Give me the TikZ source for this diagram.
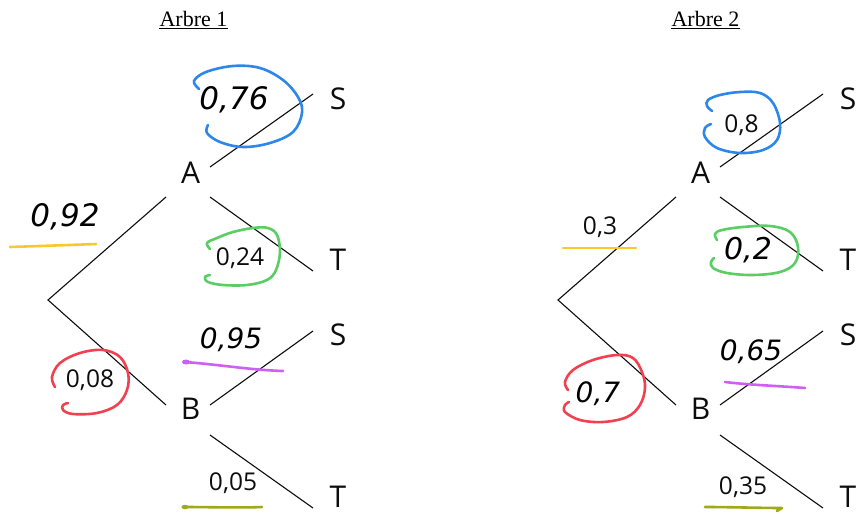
\documentclass[tikz,border=0pt]{standalone}
\usepackage{fontspec}
\setmainfont{Open Sans}
\newfontfamily\titlefont{Liberation Serif}
\newfontfamily\handfont{DejaVu Sans}
\definecolor{inkblue}{RGB}{45,135,235}
\definecolor{inkgreen}{RGB}{90,205,100}
\definecolor{inkred}{RGB}{240,65,80}
\definecolor{inkyellow}{RGB}{250,200,45}
\definecolor{inkpurple}{RGB}{205,95,245}
\definecolor{inkolive}{RGB}{160,170,25}
\begin{document}
\begin{tikzpicture}[x=1pt,y=-1pt,
  lbl/.style={font=\fontsize{30}{30}\selectfont, text=black!95, inner sep=0},
  num/.style={font=\fontsize{24.5}{25}\selectfont, text=black!95, inner sep=0},
  hand/.style={font=\handfont\itshape\fontsize{#1}{#1}\selectfont, text=black, inner sep=0},
  branch/.style={line width=1.1pt, black!95},
  ink/.style={line width=2.6pt, line cap=round, line join=round},
  ttl/.style={font=\titlefont\fontsize{22}{22}\selectfont, inner xsep=0, inner ysep=2pt}
]
\useasboundingbox[fill=white] (0,0) rectangle (857,514);

% titles
\node[ttl, anchor=base] (t1) at (193.5,26) {Arbre 1};
\draw[line width=0.9pt] ([yshift=-2pt]t1.base west) -- ([yshift=-2pt]t1.base east);
\node[ttl, anchor=base] (t2) at (705.5,26) {Arbre 2};
\draw[line width=0.9pt] ([yshift=-2pt]t2.base west) -- ([yshift=-2pt]t2.base east);

% trees
\foreach \dx/\k in {0/1, 510/2}{
\begin{scope}[xshift=\dx pt]
  \coordinate (R\k) at (48,300);
  \coordinate (Ain\k) at (166,197);
  \coordinate (Bin\k) at (166,405);
  \node[lbl] (A\k) at (190.5,172.5) {A};
  \node[lbl] (B\k) at (190.5,409) {B};
  \coordinate (AoS\k) at (210,167);
  \coordinate (AoT\k) at (210,197);
  \coordinate (BoS\k) at (210,405);
  \coordinate (BoT\k) at (210,435);
  \coordinate (SAe\k) at (313,94);
  \coordinate (TAe\k) at (313,271);
  \coordinate (SBe\k) at (313,331);
  \coordinate (TBe\k) at (313,508);
  \node[lbl] (SA\k) at (338,99) {S};
  \node[lbl] (TA\k) at (338,260) {T};
  \node[lbl] (SB\k) at (338,335) {S};
  \node[lbl] (TB\k) at (338,497) {T};
  \draw[branch] (Ain\k) -- (R\k) -- (Bin\k);
  \draw[branch] (AoS\k) -- (SAe\k);
  \draw[branch] (AoT\k) -- (TAe\k);
  \draw[branch] (BoS\k) -- (SBe\k);
  \draw[branch] (BoT\k) -- (TBe\k);
\end{scope}
}

% ---------- Arbre 1 annotations ----------
\draw[ink, inkblue] plot[smooth, tension=0.6] coordinates {(199,89) (194,81) (206,72) (233,66) (260,68) (283,80) (298,97) (302,113) (293,132) (270,143) (243,147) (220,142) (207,133) (208,125)};
\node[hand=31] (h76) at (234,100) {0,76};

\node[hand=31] (h92) at (65,217) {0,92};
\draw[ink, inkyellow] (10,247) .. controls (40,246) and (70,245) .. (96,244);

\draw[ink, inkgreen] plot[smooth, tension=0.6] coordinates {(210,249) (207,243) (217,238) (233,232) (253,228) (268,228) (277,235) (280,252) (276,270) (267,280) (247,285) (223,285) (208,282) (205,277) (210,275)};
\node[num] (n24) at (240,258) {0,24};

\draw[ink, inkred] plot[smooth, tension=0.6] coordinates {(55,387) (52,377) (60,363) (80,353) (103,350) (120,357) (128,373) (127,390) (117,405) (97,413) (73,414) (63,410) (63,405) (68,403)};
\node[num] (n08) at (90,380) {0,08};

\node[hand=28] (h95) at (231,340) {0,95};
\draw[ink, inkpurple] (184,362) .. controls (215,364) and (250,370) .. (283,371);
\fill[inkpurple] (186,362) ellipse (4 and 2.5);

\node[num] (n05) at (233,483) {0,05};
\draw[ink, inkolive] (183,507) .. controls (210,507) and (240,508) .. (262,507);
\fill[inkolive] (185,507) ellipse (3.5 and 2.2);

% ---------- Arbre 2 annotations ----------
\draw[ink, inkblue] plot[smooth, tension=0.6] coordinates {(712,111) (707,106) (708,100) (720,95) (740,92) (760,93) (773,103) (780,123) (777,140) (763,150) (740,153) (717,148) (705,137) (705,128) (711,124)};
\node[num] (n8) at (741.5,125) {0,8};

\node[num] (n3) at (600,227) {0,3};
\draw[ink, inkyellow] (563,248) -- (636,248);

\draw[ink, inkgreen] plot[smooth, tension=0.6] coordinates {(717,240) (715,234) (722,230) (743,227) (770,226) (790,232) (798,247) (795,263) (780,272) (753,275) (727,273) (713,268) (711,262) (714,258)};
\node[hand=30] (h2) at (748,250) {0,2};

\draw[ink, inkred] plot[smooth, tension=0.6] coordinates {(568,390) (565,382) (573,370) (593,360) (617,355) (633,358) (642,372) (645,388) (640,405) (627,417) (603,422) (580,420) (565,412) (565,405) (569,402)};
\node[hand=28] (h7) at (598,394) {0,7};

\node[hand=28] (h65) at (751,352) {0,65};
\draw[ink, inkpurple] (725,382) .. controls (750,385) and (780,386) .. (805,388);

\node[num] (n35) at (743,487) {0,35};
\draw[ink, inkolive] (705,507) .. controls (730,507) and (760,508) .. (782,508) -- (777,511);
\end{tikzpicture}
\end{document}
